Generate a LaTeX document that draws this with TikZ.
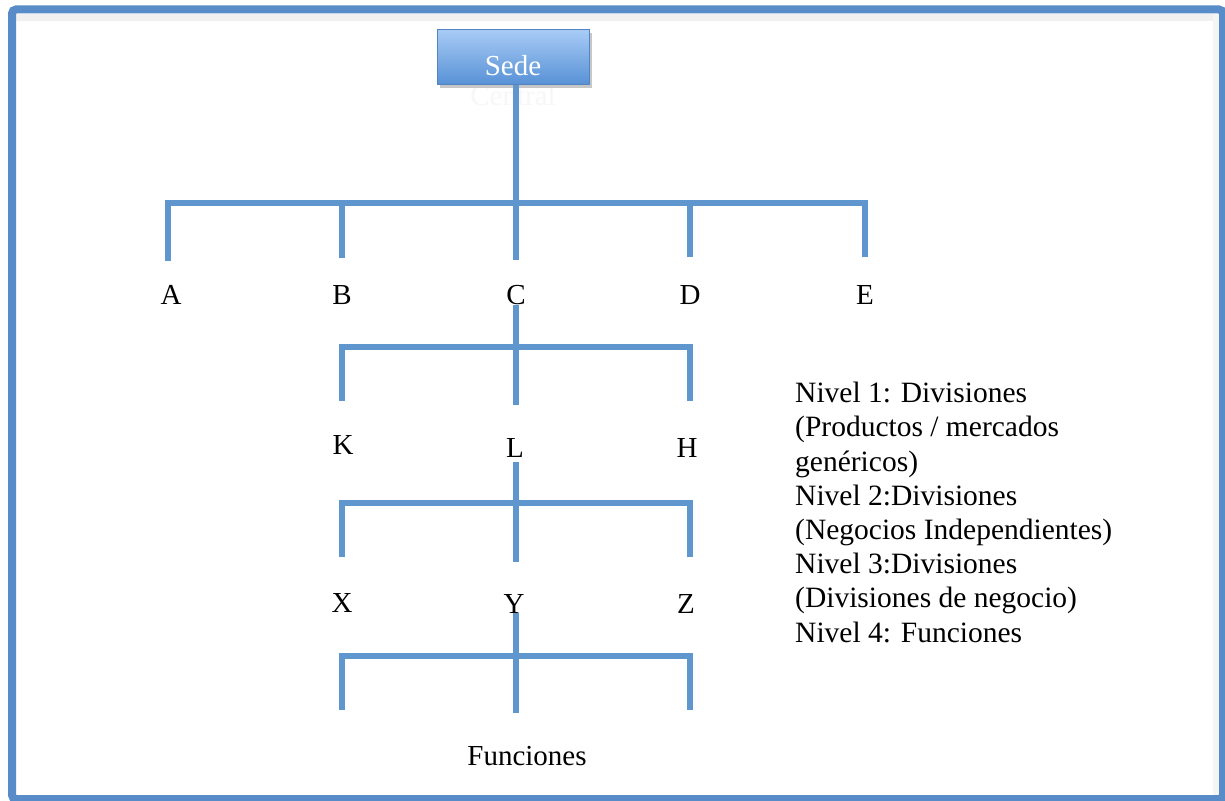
\documentclass[tikz,border=0pt]{standalone}
\usepackage{fontspec}
\setmainfont{Liberation Serif}
\definecolor{linkblue}{RGB}{96,150,206}
\definecolor{frameblue}{RGB}{88,140,200}
\definecolor{boxtop}{RGB}{168,203,246}
\definecolor{boxbot}{RGB}{88,146,214}
\definecolor{boxedge}{RGB}{84,132,192}
\tikzset{
  link/.style={draw=linkblue, line width=5.5pt},
  linkshadow/.style={draw=black!15, line width=5.5pt},
  lbl/.style={anchor=base, inner sep=0pt, font=\fontsize{29}{34}\selectfont},
}
\begin{document}
\begin{tikzpicture}[x=1pt, y=-1pt]
\useasboundingbox (0,0) rectangle (1225,800);
\fill[white] (0,0) rectangle (1225,800);

% outer frame with soft inner shadow
\fill[black!6] (16,14) rectangle (1220,21);
\fill[black!4] (1213,14) rectangle (1220,795);
\draw[frameblue, line width=8pt, rounded corners=4pt] (12,9.5) rectangle (1223,799);

% head-office box; the second word of its title runs out below it
\node[lbl, text=black!3] (central) at (513,105) {Central};
\fill[black!22] (440,33) rectangle (592,88);
\node[minimum width=152pt, minimum height=54pt, inner sep=0pt,
      top color=boxtop, bottom color=boxbot, draw=boxedge, line width=1pt]
      (sede) at (513,57) {};
\node[lbl, text=white] (sedetxt) at (513,75) {Sede};

% junction and end points
\coordinate (j1) at (516,203);
\coordinate (a1) at (168,203); \coordinate (a2) at (168,261);
\coordinate (b1) at (342,203); \coordinate (b2) at (342,258);
\coordinate (c2) at (516,260);
\coordinate (d1) at (690,203); \coordinate (d2) at (690,257);
\coordinate (e1) at (865,203); \coordinate (e2) at (865,257);

\coordinate (l1t) at (516,305); \coordinate (j2) at (516,347); \coordinate (l1b) at (516,405);
\coordinate (k1) at (342,347); \coordinate (k2) at (342,401);
\coordinate (h1) at (690,347); \coordinate (h2) at (690,401);

\coordinate (l2t) at (516,462); \coordinate (j3) at (516,503); \coordinate (l2b) at (516,562);
\coordinate (x1) at (342,503); \coordinate (x2) at (342,557);
\coordinate (z1) at (690,503); \coordinate (z2) at (690,557);

\coordinate (l3t) at (516,613); \coordinate (j4) at (516,656); \coordinate (l3b) at (516,713);
\coordinate (f1) at (342,656); \coordinate (f2) at (342,710);
\coordinate (g1) at (690,656); \coordinate (g2) at (690,710);

% connectors: light shadow first, then the blue strokes
\foreach \s/\dx/\dy in {linkshadow/1.5/2.5, link/0/0}{
  \begin{scope}[shift={(\dx,\dy)}]
    \draw[\s] (sede.south -| j1) -- (c2);
    \draw[\s] (a2) -- (a1) -- (e1) -- (e2);
    \draw[\s] (b1) -- (b2);
    \draw[\s] (d1) -- (d2);

    \draw[\s] (l1t) -- (l1b);
    \draw[\s] (k2) -- (k1) -- (h1) -- (h2);

    \draw[\s] (l2t) -- (l2b);
    \draw[\s] (x2) -- (x1) -- (z1) -- (z2);

    \draw[\s] (l3t) -- (l3b);
    \draw[\s] (f2) -- (f1) -- (g1) -- (g2);
  \end{scope}
}

% unit labels
\node[lbl] (A) at (171,304) {A};
\node[lbl] (B) at (342,304) {B};
\node[lbl] (C) at (516,304) {C};
\node[lbl] (D) at (690,304) {D};
\node[lbl] (E) at (865,304) {E};

\node[lbl] (K) at (343,454) {K};
\node[lbl] (L) at (515,457) {L};
\node[lbl] (H) at (687,457) {H};

\node[lbl] (X) at (342,612) {X};
\node[lbl] (Y) at (514,613) {Y};
\node[lbl] (Z) at (686,613) {Z};

\node[lbl] (func) at (527,765) {Funciones};

% level legend (base anchor sits on the last line)
\node[anchor=base west, inner sep=0pt, align=left,
      font=\fontsize{29.5}{34.2}\selectfont] (legend) at (795,642)
  {Nivel 1: Divisiones\\
   (Productos / mercados\\
   genéricos)\\
   Nivel 2:Divisiones\\
   (Negocios Independientes)\\
   Nivel 3:Divisiones\\
   (Divisiones de negocio)\\
   Nivel 4: Funciones};
\end{tikzpicture}
\end{document}
